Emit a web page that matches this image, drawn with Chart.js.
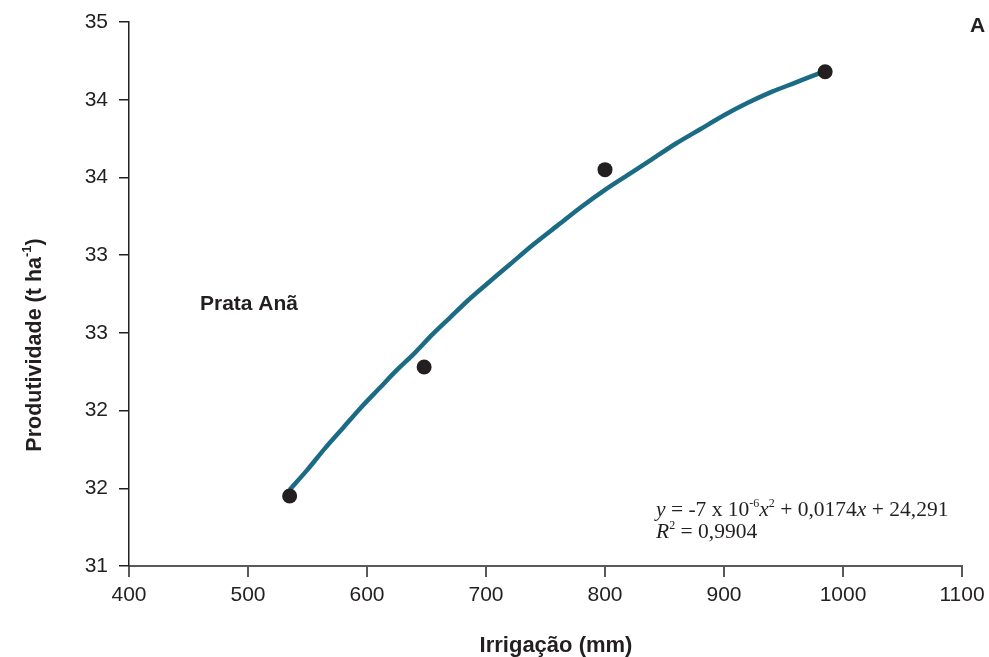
<!DOCTYPE html>
<html>
<head>
<meta charset="utf-8">
<script src="https://cdn.jsdelivr.net/npm/chart.js@4.4.0/dist/chart.umd.min.js"></script>
<style>
  html, body { margin: 0; padding: 0; background: #ffffff; }
  #wrap { width: 989px; height: 657px; position: relative; }
</style>
</head>
<body>
<div id="wrap"><canvas id="c" width="989" height="657"></canvas></div>
<script>
// Observed points (Irrigação mm, Produtividade t/ha)
const irrigation = [535, 648, 800, 985];
const productivity = [31.45, 32.28, 33.55, 34.18];

// Fitted curve
const curveX = [535, 550, 565, 580, 595, 610, 625, 640, 655, 670, 685, 700, 720, 740, 760, 780, 800, 820, 840, 860, 880, 900, 920, 940, 960, 980];
const curveY = [31.49, 31.62, 31.76, 31.89, 32.02, 32.14, 32.26, 32.37, 32.49, 32.60, 32.71, 32.81, 32.94, 33.07, 33.19, 33.31, 33.42, 33.52, 33.62, 33.72, 33.81, 33.90, 33.98, 34.05, 34.11, 34.17];

// Axis settings
const xTicks = [400, 500, 600, 700, 800, 900, 1000, 1100];
const yMin = 31, yMax = 34.5, yStep = 0.5;

const seriesLabel = 'Prata Anã';
const panelLabel = 'A';
const xTitle = 'Irrigação (mm)';
const yTitle = 'Produtividade (t ha';

const INK = '#231F20';
const SANS = '"Liberation Sans", Arial, sans-serif';
const SERIF = '"Liberation Serif", "Times New Roman", serif';

const annotations = {
  id: 'annotations',
  afterDraw(chart) {
    const ctx = chart.ctx;
    ctx.save();
    ctx.fillStyle = INK;
    ctx.textBaseline = 'alphabetic';

    // Y title with superscript
    ctx.save();
    ctx.translate(41, 345);
    ctx.rotate(-Math.PI / 2);
    ctx.font = 'bold 21.5px ' + SANS;
    const w1 = ctx.measureText(yTitle).width;
    ctx.font = 'bold 13px ' + SANS;
    const w2 = ctx.measureText('-1').width;
    ctx.font = 'bold 21.5px ' + SANS;
    const w3 = ctx.measureText(')').width;
    let x0 = -(w1 + w2 + w3) / 2;
    ctx.textAlign = 'left';
    ctx.fillText(yTitle, x0, 0);
    ctx.font = 'bold 13px ' + SANS;
    ctx.fillText('-1', x0 + w1, -10);
    ctx.font = 'bold 21.5px ' + SANS;
    ctx.fillText(')', x0 + w1 + w2, 0);
    ctx.restore();

    // X title
    ctx.font = 'bold 22px ' + SANS;
    ctx.textAlign = 'center';
    ctx.fillText(xTitle, 556, 652);

    // Series label and panel letter
    ctx.textAlign = 'left';
    ctx.font = 'bold 21px ' + SANS;
    ctx.fillText(seriesLabel, 200, 310);
    ctx.fillText(panelLabel, 970, 32);

    // Equation
    const parts1 = [
      ['y', 'italic 21.5px ' + SERIF, 0],
      [' = -7 x 10', '21.5px ' + SERIF, 0],
      ['-6', '12px ' + SERIF, -9],
      ['x', 'italic 21.5px ' + SERIF, 0],
      ['2', '12px ' + SERIF, -9],
      [' + 0,0174', '21.5px ' + SERIF, 0],
      ['x', 'italic 21.5px ' + SERIF, 0],
      [' + 24,291', '21.5px ' + SERIF, 0]
    ];
    const parts2 = [
      ['R', 'italic 21.5px ' + SERIF, 0],
      ['2', '12px ' + SERIF, -9],
      [' = 0,9904', '21.5px ' + SERIF, 0]
    ];
    function drawParts(parts, x, y) {
      for (const [t, f, dy] of parts) {
        ctx.font = f;
        ctx.fillText(t, x, y + dy);
        x += ctx.measureText(t).width;
      }
    }
    drawParts(parts1, 656, 516);
    drawParts(parts2, 656, 538);
    ctx.restore();
  }
};

const curveData = curveX.map((x, i) => ({ x: x, y: curveY[i] }));
const pointData = irrigation.map((x, i) => ({ x: x, y: productivity[i] }));

new Chart(document.getElementById('c'), {
  type: 'scatter',
  data: {
    datasets: [
      {
        label: 'Pontos',
        data: pointData,
        backgroundColor: INK,
        borderColor: INK,
        pointRadius: 7.5,
        pointBorderWidth: 0,
        showLine: false,
        order: 0
      },
      {
        label: 'Ajuste',
        data: curveData,
        showLine: true,
        borderColor: '#1b6b84',
        borderWidth: 4.5,
        pointRadius: 0,
        tension: 0.3,
        fill: false,
        clip: false,
        order: 1
      }
    ]
  },
  plugins: [annotations],
  options: {
    responsive: false,
    animation: false,
    layout: { padding: { left: 0, right: 27, top: 22, bottom: 0 } },
    plugins: {
      legend: { display: false },
      tooltip: { enabled: false },
      title: { display: false }
    },
    scales: {
      x: {
        type: 'linear',
        min: 400,
        max: 1100,
        afterBuildTicks(scale) { scale.ticks = xTicks.map(v => ({ value: v })); },
        afterFit(scale) { scale.height = 91; scale.paddingRight = 0; scale.paddingLeft = 0; },
        border: { display: true, color: '#58595b', width: 2 },
        grid: { drawOnChartArea: false, drawTicks: true, tickLength: 11, color: '#58595b', lineWidth: 2 },
        ticks: { color: INK, font: { family: SANS, size: 21 }, padding: 6, maxRotation: 0, callback: (v) => String(v) }
      },
      y: {
        type: 'linear',
        min: yMin,
        max: yMax,
        afterFit(scale) { scale.width = 129; scale.paddingTop = 0; scale.paddingBottom = 0; },
        border: { display: true, color: INK, width: 1.5 },
        grid: { drawOnChartArea: false, drawTicks: true, tickLength: 10, color: INK, lineWidth: 1.5 },
        ticks: {
          stepSize: yStep,
          color: INK,
          font: { family: SANS, size: 21 },
          padding: 11,
          callback: (v) => String(Math.round(v))
        }
      }
    }
  }
});
</script>
</body>
</html>
